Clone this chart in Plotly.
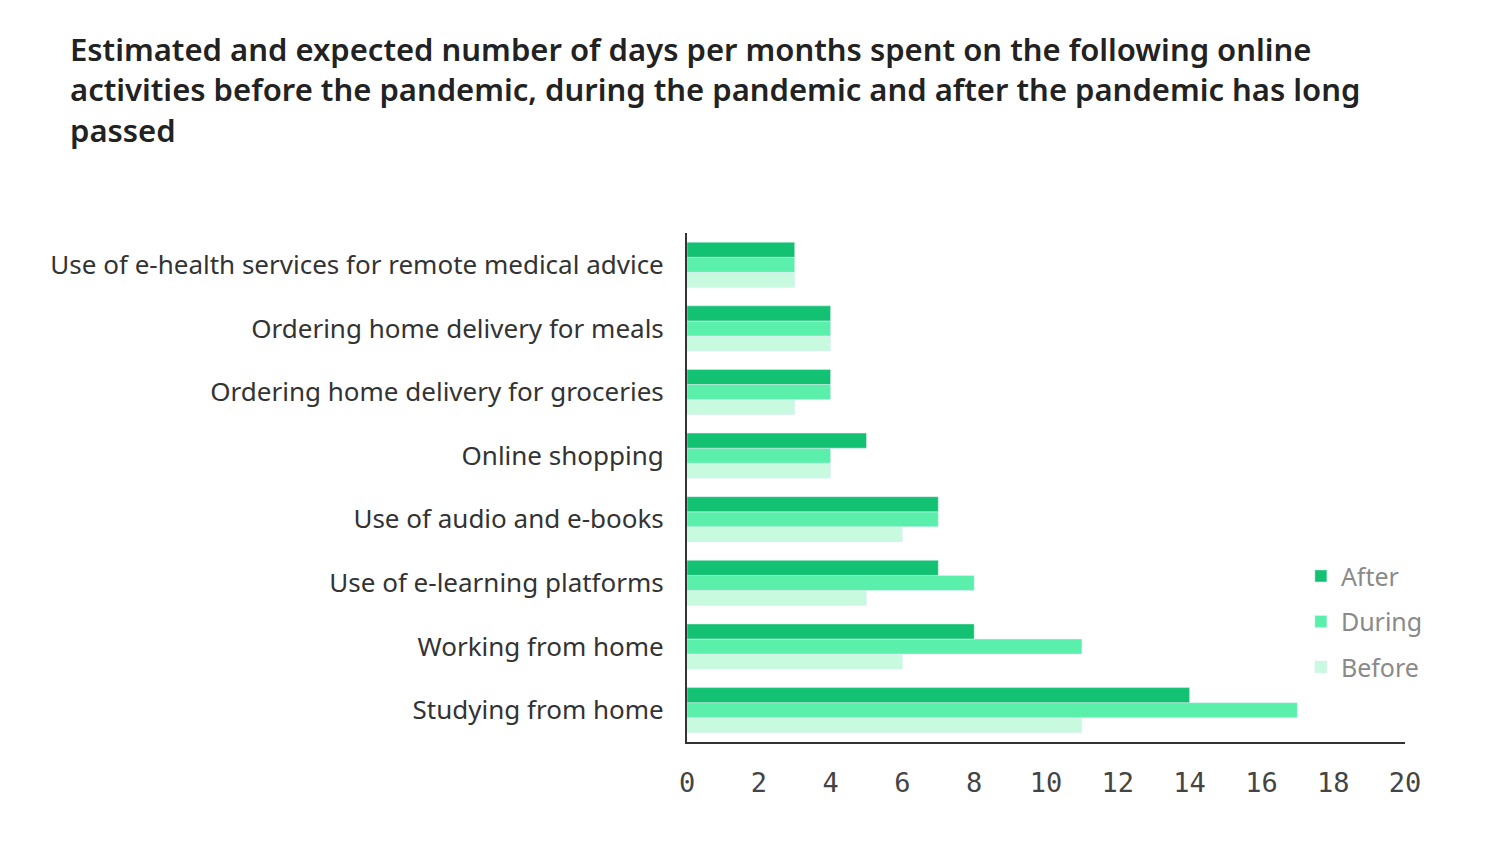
import plotly.graph_objects as go

# --- Data (bottom category first) ---

activities = [
    "Studying from home",
    "Working from home",
    "Use of e-learning platforms",
    "Use of audio and e-books",
    "Online shopping",
    "Ordering home delivery for groceries",
    "Ordering home delivery for meals",
    "Use of e-health services for remote medical advice",
]

before = [11, 6, 5, 6, 4, 3, 4, 3]
during = [17, 11, 8, 7, 4, 4, 4, 3]
after = [14, 8, 7, 7, 5, 4, 4, 3]

x_ticks = [0, 2, 4, 6, 8, 10, 12, 14, 16, 18, 20]

title_text = (
    "Estimated and expected number of days per months spent on the following online<br>"
    "activities before the pandemic, during the pandemic and after the pandemic has long<br>"
    "passed"
)

# page body has an 8px margin, so the figure is a bit smaller than the window
W, H = 1479, 826

# --- Build the figure ---

fig = go.Figure()

# trace order: first trace sits at the bottom of each group
# legendrank puts After on top of the legend
fig.add_trace(go.Bar(y=activities, x=before, name="Before", legendgroup="b", legendrank=3,
                     orientation="h", marker_color="#C8FAE0"))
fig.add_trace(go.Bar(y=activities, x=during, name="During", legendgroup="d", legendrank=2,
                     orientation="h", marker_color="#5AF0AC"))
fig.add_trace(go.Bar(y=activities, x=after, name="After", legendgroup="a", legendrank=1,
                     orientation="h", marker_color="#12C172"))

fig.update_layout(
    width=W,
    height=H,
    paper_bgcolor="white",
    plot_bgcolor="white",
    barmode="group",
    bargap=0.29,
    bargroupgap=0,
    margin=dict(l=679, r=82, t=225, b=92),
    title=dict(
        text=title_text,
        x=62 / W,
        xanchor="left",
        xref="container",
        y=1 - 53 / H,
        yanchor="top",
        yref="container",
        font=dict(family="Noto Sans", size=31, color="#222222", weight=600),
    ),
    legend=dict(
        x=0.855,
        y=0.371,
        xanchor="left",
        yanchor="top",
        traceorder="grouped",
        tracegroupgap=10,
        font=dict(family="Noto Sans", size=25, color="#8a8a8a"),
        itemwidth=30,
    ),
    showlegend=True,
)

fig.update_xaxes(
    range=[0, 20],
    tickvals=x_ticks,
    showgrid=False,
    zeroline=False,
    showline=True,
    linecolor="#333333",
    linewidth=2,
    ticks="",
    ticklabelstandoff=16,
    tickfont=dict(family="DejaVu Sans Mono", size=27, color="#444444"),
)

fig.update_yaxes(
    categoryorder="array",
    categoryarray=activities,
    range=[-0.5, 7.5],
    showgrid=False,
    zeroline=False,
    showline=True,
    linecolor="#333333",
    linewidth=2,
    ticks="",
    ticklabelstandoff=16,
    tickfont=dict(family="Noto Sans", size=26, color="#333333"),
)

fig.write_html("out.html")
